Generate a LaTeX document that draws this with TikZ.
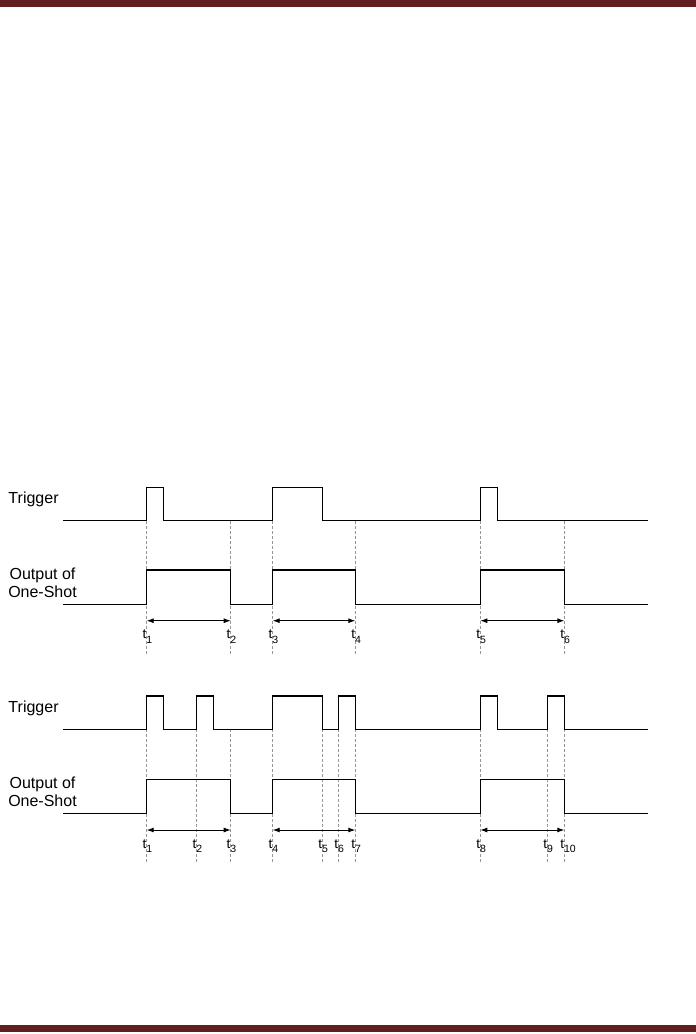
\documentclass[tikz,border=0pt]{standalone}
\usepackage{fontspec}
\setmainfont{Liberation Sans}
\usetikzlibrary{arrows.meta}
\definecolor{barred}{RGB}{98,30,30}
\definecolor{dashgray}{RGB}{150,150,150}
\tikzset{
  sig/.style={line width=1.3pt, line join=miter},
  guide/.style={dashgray, line width=0.6pt, dash pattern=on 3pt off 2pt},
  span/.style={line width=0.9pt, {Latex[length=7pt,width=5pt]}-{Latex[length=7pt,width=5pt]}},
  lbl/.style={inner sep=0pt, font=\fontsize{16}{18}\selectfont},
  tl/.style={inner sep=0pt, anchor=base west, font=\fontsize{13.5}{13.5}\selectfont},
}
\newcommand{\tsub}[1]{t\raisebox{-4.5pt}{\fontsize{10.5}{10.5}\selectfont #1}}
\begin{document}
\begin{tikzpicture}[x=1pt,y=-1pt]
\useasboundingbox (0,0) rectangle (696,1034);
\fill[barred] (0,0) rectangle (696,7);
\fill[barred] (0,1025) rectangle (696,1032);

% ---------- Diagram 1 ----------
% guides
\foreach \x/\n in {146.7/a1,230.7/a2,272.7/a3,355.3/a4,480.3/a5,564.3/a6}{
  \coordinate (\n top) at (\x,520.5);
  \coordinate (\n bot) at (\x,655);
  \draw[guide] (\n top) -- (\n bot);
}
\node[lbl, anchor=base west] (trig1) at (8.3,503.3) {Trigger};
\node[lbl, anchor=base, align=center] (out1) at (42.5,597.3) {Output of\\One-Shot};

\draw[sig] (63,520.5) -- (146.7,520.5) -- (146.7,487.3) -- (163.3,487.3) -- (163.3,520.5)
  -- (272.7,520.5) -- (272.7,487.3) -- (322.3,487.3) -- (322.3,520.5)
  -- (480.3,520.5) -- (480.3,487.3) -- (497.3,487.3) -- (497.3,520.5) -- (648.3,520.5);
\draw[sig] (63,604.3) -- (146.7,604.3) -- (146.7,570) -- (230.7,570) -- (230.7,604.3)
  -- (272.7,604.3) -- (272.7,570) -- (355.3,570) -- (355.3,604.3)
  -- (480.3,604.3) -- (480.3,570) -- (564.3,570) -- (564.3,604.3) -- (648.3,604.3);

\foreach \x/\n in {146.7/a1,230.7/a2,272.7/a3,355.3/a4,480.3/a5,564.3/a6}{
  \coordinate (\n arr) at (\x,620.7);
}
\draw[span] (a1arr) -- (a2arr);
\draw[span] (a3arr) -- (a4arr);
\draw[span] (a5arr) -- (a6arr);

\foreach \x/\s in {146.7/1,230.7/2,272.7/3,355.3/4,480.3/5,564.3/6}{
  \node[tl] (la\s) at (\x-4.2,638.5) {\tsub{\s}};
}

% ---------- Diagram 2 ----------
\foreach \x/\n in {146.7/b1,196.7/b2,230.7/b3,272.7/b4,322.3/b5,338.3/b6,355.3/b7,480.3/b8,547.3/b9,564.3/b10}{
  \coordinate (\n top) at (\x,729.3);
  \coordinate (\n bot) at (\x,862.7);
  \draw[guide] (\n top) -- (\n bot);
}
\node[lbl, anchor=base west] (trig2) at (8.3,712.8) {Trigger};
\node[lbl, anchor=base, align=center] (out2) at (42.5,806.8) {Output of\\One-Shot};

\draw[sig] (63,729.3) -- (146.7,729.3) -- (146.7,696) -- (163.3,696) -- (163.3,729.3)
  -- (196.7,729.3) -- (196.7,696) -- (213.3,696) -- (213.3,729.3)
  -- (272.7,729.3) -- (272.7,696) -- (322.3,696) -- (322.3,729.3)
  -- (338.3,729.3) -- (338.3,696) -- (355.3,696) -- (355.3,729.3)
  -- (480.3,729.3) -- (480.3,696) -- (497.3,696) -- (497.3,729.3)
  -- (547.3,729.3) -- (547.3,696) -- (564.3,696) -- (564.3,729.3) -- (648.3,729.3);
\draw[sig] (63,813.3) -- (146.7,813.3) -- (146.7,779.3) -- (230.7,779.3) -- (230.7,813.3)
  -- (272.7,813.3) -- (272.7,779.3) -- (355.3,779.3) -- (355.3,813.3)
  -- (480.3,813.3) -- (480.3,779.3) -- (564.3,779.3) -- (564.3,813.3) -- (648.3,813.3);

\foreach \x/\n in {146.7/b1,230.7/b3,272.7/b4,355.3/b7,480.3/b8,564.3/b10}{
  \coordinate (\n arr) at (\x,830);
}
\draw[span] (b1arr) -- (b3arr);
\draw[span] (b4arr) -- (b7arr);
\draw[span] (b8arr) -- (b10arr);

\foreach \x/\s in {146.7/1,196.7/2,230.7/3,272.7/4,322.3/5,338.3/6,355.3/7,480.3/8,547.3/9,564.3/10}{
  \node[tl] (lb\s) at (\x-4.2,848) {\tsub{\s}};
}
\end{tikzpicture}
\end{document}
